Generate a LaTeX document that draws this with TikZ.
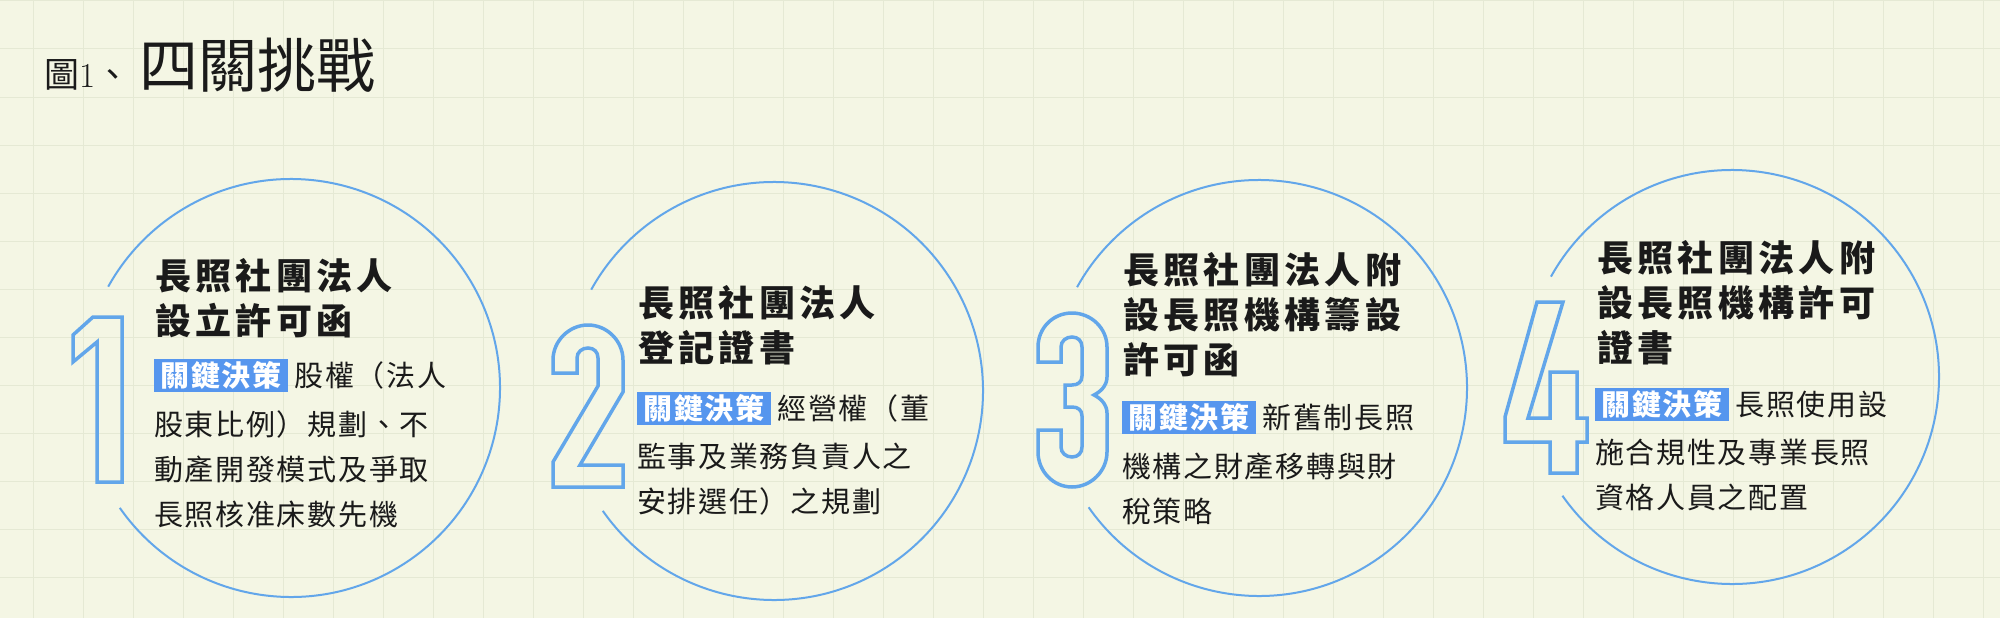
\documentclass[tikz,border=0pt]{standalone}
\usepackage{fontspec}
\usetikzlibrary{positioning}
\newfontfamily\cjkplain{Noto Sans CJK TC}
\newfontfamily\cjkbody[LetterSpace=6]{Noto Sans CJK TC}
\newfontfamily\cjkhead[LetterSpace=12]{Noto Sans CJK TC}
\definecolor{paper}{RGB}{244,246,228}
\definecolor{gridcol}{RGB}{229,233,212}
\definecolor{ringblue}{RGB}{98,166,234}
\definecolor{keyblue}{RGB}{86,150,238}
\definecolor{ink}{RGB}{26,26,26}
\tikzset{
  ring/.style={draw=ringblue, line width=2pt},
  digit/.style={draw=ringblue, line width=3.5pt, line join=miter},
  gridrule/.style={draw=gridcol, line width=1pt},
  headline/.style={anchor=north west, inner sep=0pt, align=left, text=ink,
    font=\cjkhead\bfseries\fontsize{36}{45}\selectfont, execute at begin node=\strut},
  keybox/.style={fill=keyblue, text=white, inner sep=0pt,
    minimum width=134pt, minimum height=33pt,
    font=\cjkbody\bfseries\fontsize{29}{33}\selectfont},
  bodyline/.style={inner sep=0pt, text=ink, font=\cjkbody\fontsize{29}{45}\selectfont},
  bodyrest/.style={bodyline, align=left, execute at begin node=\strut},
}

\begin{document}
\begin{tikzpicture}[x=1pt, y=1pt]
  \begin{scope}
    \clip (0,0) rectangle (2000,-618);
    \fill[paper] (0,0) rectangle (2000,-618);
    \draw[gridrule, shift={(33,-1)}] (-50,48) grid[xstep=50, ystep=48] (2000,-640);
  \end{scope}
  \useasboundingbox (0,0) rectangle (2000,-618);

  \node[anchor=base west, inner sep=0pt, text=ink] (fig) at (44,-87.5)
    {{\cjkplain\fontsize{35}{35}\selectfont 圖}{\fontsize{35}{35}\selectfont 1}{\cjkplain\fontsize{35}{35}\selectfont 、}\hspace{9pt}{\cjkplain\fontsize{59}{59}\selectfont 四關挑戰}};

  % rings, open on the left where the numbers sit
  \coordinate (o1) at (291,-388);
  \coordinate (o2) at (774,-391);
  \coordinate (o3) at (1259,-388);
  \coordinate (o4) at (1732,-377);
  \foreach \c/\r in {o1/209, o2/209, o3/208, o4/207}
    \draw[ring] (\c) ++(-145:\r) arc[start angle=-145, end angle=151, radius=\r];

  % outlined numbers
  \draw[digit] (93,-317) -- (122,-317) -- (122,-482) -- (97,-482) -- (97,-342)
    -- (73,-362) -- (73,-335) -- cycle;
  \draw[digit] (553,-487) -- (623,-487) -- (623,-465) -- (580,-465) -- (623,-392) -- (623,-360)
    .. controls (623,-341) and (607,-325) .. (588,-325)
    .. controls (569,-325) and (553,-341) .. (553,-360)
    -- (553,-373) -- (577,-373) -- (577,-358)
    .. controls (577,-352) and (582,-348) .. (588,-348)
    .. controls (594,-348) and (598,-352) .. (598,-358)
    -- (598,-386) -- (553,-462) -- cycle;
  \draw[digit] (1038,-347)
    .. controls (1038,-328) and (1053,-313) .. (1072,-313)
    .. controls (1091,-313) and (1107,-328) .. (1107,-347)
    -- (1107,-377)
    .. controls (1107,-386) and (1100,-392) .. (1094,-395)
    .. controls (1100,-398) and (1107,-404) .. (1107,-413)
    -- (1107,-452)
    .. controls (1107,-471) and (1091,-487) .. (1072,-487)
    .. controls (1053,-487) and (1038,-471) .. (1038,-452)
    -- (1038,-430) -- (1061,-430) -- (1061,-447)
    .. controls (1061,-453) and (1066,-457) .. (1072,-457)
    .. controls (1078,-457) and (1082,-453) .. (1082,-447)
    -- (1082,-416)
    .. controls (1082,-410) and (1078,-407) .. (1072,-407)
    -- (1065,-407) -- (1065,-385) -- (1072,-385)
    .. controls (1078,-385) and (1082,-382) .. (1082,-376)
    -- (1082,-347)
    .. controls (1082,-341) and (1078,-337) .. (1072,-337)
    .. controls (1066,-337) and (1061,-341) .. (1061,-347)
    -- (1061,-362) -- (1038,-362) -- cycle;
  \draw[digit] (1537,-302) -- (1563,-302) -- (1528,-418) -- (1550,-418) -- (1550,-372)
    -- (1577,-372) -- (1577,-418) -- (1587,-418) -- (1587,-442) -- (1577,-442)
    -- (1577,-473) -- (1550,-473) -- (1550,-442) -- (1505,-442) -- (1505,-417) -- cycle;

  % 1
  \node[headline] (h1) at (155,-258.5) {長照社團法人\\設立許可函};
  \node[keybox] (k1) at (221,-375.5) {關鍵決策};
  \node[bodyline, right=6pt of k1] (e1) {股權（法人};
  \node[bodyrest, below right=18pt and 0pt of k1.south west] (r1)
    {股東比例）規劃、不\\動產開發模式及爭取\\長照核准床數先機};

  % 2
  \node[headline] (h2) at (638,-285.5) {長照社團法人\\登記證書};
  \node[keybox] (k2) at (704,-408) {關鍵決策};
  \node[bodyline, right=6pt of k2] (e2) {經營權（董};
  \node[bodyrest, below right=18pt and 0pt of k2.south west] (r2)
    {監事及業務負責人之\\安排選任）之規劃};

  % 3
  \node[headline] (h3) at (1123,-252.5) {長照社團法人附\\設長照機構籌設\\許可函};
  \node[keybox] (k3) at (1189,-417.5) {關鍵決策};
  \node[bodyline, right=6pt of k3] (e3) {新舊制長照};
  \node[bodyrest, below right=18pt and 0pt of k3.south west] (r3)
    {機構之財產移轉與財\\稅策略};

  % 4
  \node[headline] (h4) at (1597,-240.5) {長照社團法人附\\設長照機構許可\\證書};
  \node[keybox] (k4) at (1662,-404) {關鍵決策};
  \node[bodyline, right=6pt of k4] (e4) {長照使用設};
  \node[bodyrest, below right=18pt and 0pt of k4.south west] (r4)
    {施合規性及專業長照\\資格人員之配置};
\end{tikzpicture}
\end{document}
